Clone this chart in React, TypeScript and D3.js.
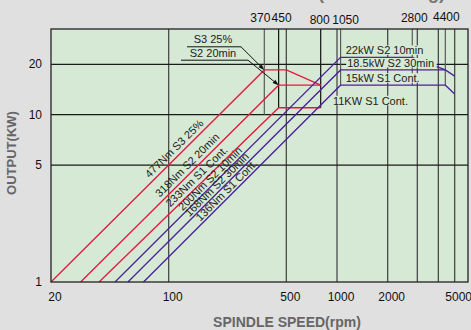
import * as d3 from "d3";

const width = 471;
const height = 330;
const plot = { left: 51, right: 468, top: 29, bottom: 282 };
const font = "'Liberation Sans', Arial, sans-serif";

const xTicks = [20, 100, 500, 1000, 2000, 5000];
const yTicks = [1, 5, 10, 20];
const xGrid = [100, 500, 1000, 2000, 3000, 4000, 5000];
const yGrid = [5, 10, 20];

// corner speeds marked along the top, and the kW level each marker runs down to
const cornerSpeeds = [370, 450, 800, 1050, 2800, 4400];
const cornerDrop = [10, 11, 11, 15, 15, 15];

// torque / power curves, [rpm, kW]
const curve477: [number, number][] = [[20, 1], [370, 18.5], [500, 18.5], [800, 15]];
const curve318: [number, number][] = [[30, 1], [450, 15], [800, 15]];
const curve233: [number, number][] = [[38.6, 1], [450, 11], [800, 11]];
const curve200: [number, number][] = [[48, 1], [1050, 22], [2800, 22], [4400, 18.5], [5000, 17]];
const curve168: [number, number][] = [[57.3, 1], [1050, 18.5], [4400, 18.5]];
const curve136: [number, number][] = [[70.9, 1], [1050, 15], [4400, 15], [5000, 13.3]];

const redCurves = [curve477, curve318, curve233];
const blueCurves = [curve200, curve168, curve136];
const redNames = ["477Nm S3 25%", "318Nm S2 20min", "233Nm S1 Cont."];
const blueNames = ["200Nm S2 10min", "168Nm S2 30min", "136Nm S1 Cont."];
const redLabelRpm = [80, 92, 106];
const blueLabelRpm = [124, 136, 158];

const powerNames = ["22kW S2 10min", "18.5kW S2 30min", "15kW S1 Cont.", "11KW S1 Cont."];
const powerLevels = [22, 18.5, 15, 11];
const powerLabelRpm = [1126, 1150, 1126, 946];

const x = d3.scaleLog().domain([20, 6000]).range([plot.left, plot.right]);
const y = d3.scaleLog().domain([1, 32.5]).range([plot.bottom, plot.top]);

const line = d3
  .line<[number, number]>()
  .x((d) => x(d[0]))
  .y((d) => y(d[1]));

const RED = "#e5173f";
const BLUE = "#4a2199";
const PLOT_BG = "#d6e9d5";

function labelOnCurve(pts: [number, number][], rpm: number) {
  const [a, b] = pts;
  const t = (Math.log(rpm) - Math.log(a[0])) / (Math.log(b[0]) - Math.log(a[0]));
  const kw = Math.exp(Math.log(a[1]) + t * (Math.log(b[1]) - Math.log(a[1])));
  const angle = (Math.atan2(y(b[1]) - y(a[1]), x(b[0]) - x(a[0])) * 180) / Math.PI;
  return { px: x(rpm), py: y(kw), angle };
}

const CurveLabel = ({ pts, rpm, text, off }: { pts: [number, number][]; rpm: number; text: string; off: number }) => {
  const { px, py, angle } = labelOnCurve(pts, rpm);
  return (
    <text
      transform={`translate(${px},${py}) rotate(${angle})`}
      dy={off}
      fontSize={11}
      fill="#222"
    >
      {text}
    </text>
  );
};

const Leader = ({ text, cx, base, x0, x1, tip }: { text: string; cx: number; base: number; x0: number; x1: number; tip: [number, number] }) => {
  const tx = x(tip[0]);
  const ty = y(tip[1]);
  const uy = base + 3.5;
  const ang = Math.atan2(ty - uy, tx - x1);
  const len = 6;
  const w = 2.2;
  const bx = tx - len * Math.cos(ang);
  const by = ty - len * Math.sin(ang);
  const head = `${tx},${ty} ${bx - w * Math.sin(ang)},${by + w * Math.cos(ang)} ${bx + w * Math.sin(ang)},${by - w * Math.cos(ang)}`;
  return (
    <g>
      <text x={cx} y={base} textAnchor="middle" fontSize={11} fill="#222">
        {text}
      </text>
      <polyline points={`${x0},${uy} ${x1},${uy} ${bx},${by}`} fill="none" stroke="#111" strokeWidth={1} />
      <polygon points={head} fill="#111" />
    </g>
  );
};

export default function App() {
  const cornerDx = [-4, 3, -1, 5, 2, 1];
  const cornerBase = [21.7, 21.7, 24, 24, 21.7, 21];
  return (
    <svg
      width={width}
      height={height}
      style={{ position: "absolute", left: 0, top: 0, background: "#e0e0e0", fontFamily: font }}
    >
      <rect width={width} height={height} fill="#e0e0e0" />
      {/* title sits mostly above the frame, only its descenders show */}
      <text x={318} y={-1.5} fontSize={18.5} fontWeight="bold" fill="#777">
        (Low Winding)
      </text>
      <rect
        x={plot.left}
        y={plot.top}
        width={plot.right - plot.left}
        height={plot.bottom - plot.top}
        fill={PLOT_BG}
      />

      {xGrid.map((v) => (
        <line key={`xg${v}`} x1={x(v)} x2={x(v)} y1={plot.top} y2={plot.bottom} stroke="#4a4a4a" strokeWidth={1.3} />
      ))}
      {yGrid.map((v) => (
        <line key={`yg${v}`} x1={plot.left} x2={plot.right} y1={y(v)} y2={y(v)} stroke="#1a1a1a" strokeWidth={1.2} />
      ))}

      {cornerSpeeds.map((v, i) => (
        <line
          key={`c${v}`}
          x1={x(v)}
          x2={x(v)}
          y1={plot.top}
          y2={y(cornerDrop[i])}
          stroke={v === 450 || v === 800 ? "#111" : "#5a5a5a"}
          strokeWidth={1.2}
        />
      ))}
      {cornerSpeeds.map((v, i) => (
        <text key={`ct${v}`} x={x(v) + cornerDx[i]} y={cornerBase[i]} textAnchor="middle" fontSize={12} fill="#111">
          {v}
        </text>
      ))}

      {redCurves.map((c, i) => (
        <path key={`r${i}`} d={line(c) ?? ""} fill="none" stroke={RED} strokeWidth={1.3} />
      ))}
      {blueCurves.map((c, i) => (
        <path key={`b${i}`} d={line(c) ?? ""} fill="none" stroke={BLUE} strokeWidth={1.3} />
      ))}

      {redCurves.map((c, i) => (
        <CurveLabel key={`rl${i}`} pts={c} rpm={redLabelRpm[i]} text={redNames[i]} off={-4} />
      ))}
      {blueCurves.map((c, i) => (
        <CurveLabel key={`bl${i}`} pts={c} rpm={blueLabelRpm[i]} text={blueNames[i]} off={-2.5} />
      ))}

      {powerNames.map((t, i) => (
        <g key={`p${i}`}>
          <rect
            x={x(powerLabelRpm[i]) - 1}
            y={y(powerLevels[i]) - 12}
            width={t.length * 5.9 + 2}
            height={9.5}
            fill={PLOT_BG}
          />
          <text x={x(powerLabelRpm[i])} y={y(powerLevels[i]) - 3} fontSize={11} fill="#222">
            {t}
          </text>
        </g>
      ))}

      <Leader text="S3 25%" cx={213} base={43.3} x0={187} x1={241} tip={[370, 18.5]} />
      <Leader text="S2 20min" cx={213} base={56.7} x0={181} x1={248} tip={[450, 15]} />

      <rect
        x={plot.left}
        y={plot.top}
        width={plot.right - plot.left}
        height={plot.bottom - plot.top}
        fill="none"
        stroke="#222"
        strokeWidth={1.3}
      />

      {xTicks.map((v) => (
        <text key={`xt${v}`} x={x(v) + 4} y={301} textAnchor="middle" fontSize={12} fill="#111">
          {v}
        </text>
      ))}
      {yTicks.map((v) => (
        <text key={`yt${v}`} x={42} y={y(v) + 4} textAnchor="end" fontSize={12} fill="#111">
          {v}
        </text>
      ))}

      <text x={287} y={327} textAnchor="middle" fontSize={14} fontWeight="bold" fill="#666">
        SPINDLE SPEED(rpm)
      </text>
      <text
        transform={`translate(16,153) rotate(-90)`}
        textAnchor="middle"
        fontSize={13}
        fontWeight="bold"
        fill="#666"
      >
        OUTPUT(KW)
      </text>
    </svg>
  );
}
